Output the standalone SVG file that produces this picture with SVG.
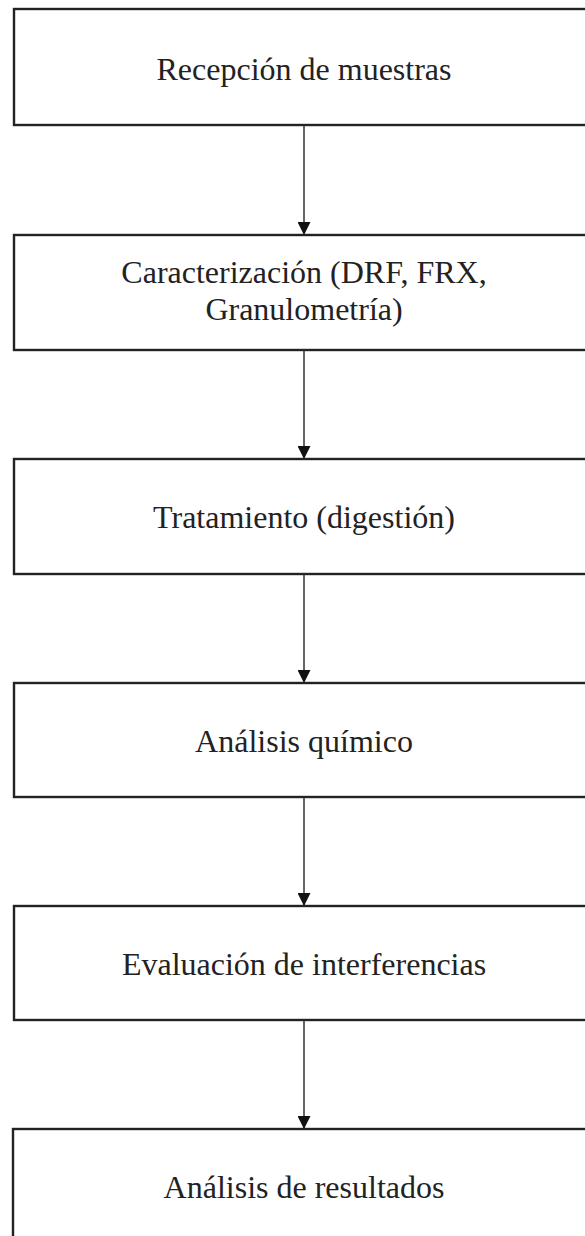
<svg xmlns="http://www.w3.org/2000/svg" width="585" height="1236" viewBox="0 0 585 1236">
<style>
.box{fill:#fff;stroke:#222;stroke-width:2.4}
.t{font-family:"Liberation Serif","Times New Roman",serif;font-size:32px;fill:#222;text-anchor:middle}
.c{stroke:#333;stroke-width:1.5;fill:none}
</style>
<defs>
<marker id="ah" markerWidth="13" markerHeight="13" refX="10" refY="5" orient="auto" markerUnits="userSpaceOnUse" viewBox="0 0 10 10">
<path d="M0,0 L10,5 L0,10 z" fill="#111"/>
</marker>
</defs>
<rect width="585" height="1236" fill="#fff"/>
<g id="n1"><rect class="box" x="14" y="9" width="590" height="116"/><text class="t" x="304" y="80">Recepción de muestras</text></g>
<g id="n2"><rect class="box" x="14" y="235" width="590" height="115"/><text class="t" x="304" y="283">Caracterización (DRF, FRX,</text><text class="t" x="304" y="320">Granulometría)</text></g>
<g id="n3"><rect class="box" x="14" y="459" width="590" height="115"/><text class="t" x="304" y="528">Tratamiento (digestión)</text></g>
<g id="n4"><rect class="box" x="14" y="683" width="590" height="114"/><text class="t" x="304" y="752">Análisis químico</text></g>
<g id="n5"><rect class="box" x="14" y="906" width="590" height="114"/><text class="t" x="304" y="975">Evaluación de interferencias</text></g>
<g id="n6"><rect class="box" x="13" y="1129" width="590" height="130"/><text class="t" x="304" y="1198">Análisis de resultados</text></g>
<g id="connectors">
<line class="c" x1="304" y1="125" x2="304" y2="235" marker-end="url(#ah)"/>
<line class="c" x1="304" y1="350" x2="304" y2="459" marker-end="url(#ah)"/>
<line class="c" x1="304" y1="574" x2="304" y2="683" marker-end="url(#ah)"/>
<line class="c" x1="304" y1="797" x2="304" y2="906" marker-end="url(#ah)"/>
<line class="c" x1="304" y1="1020" x2="304" y2="1129" marker-end="url(#ah)"/>
</g>
</svg>
